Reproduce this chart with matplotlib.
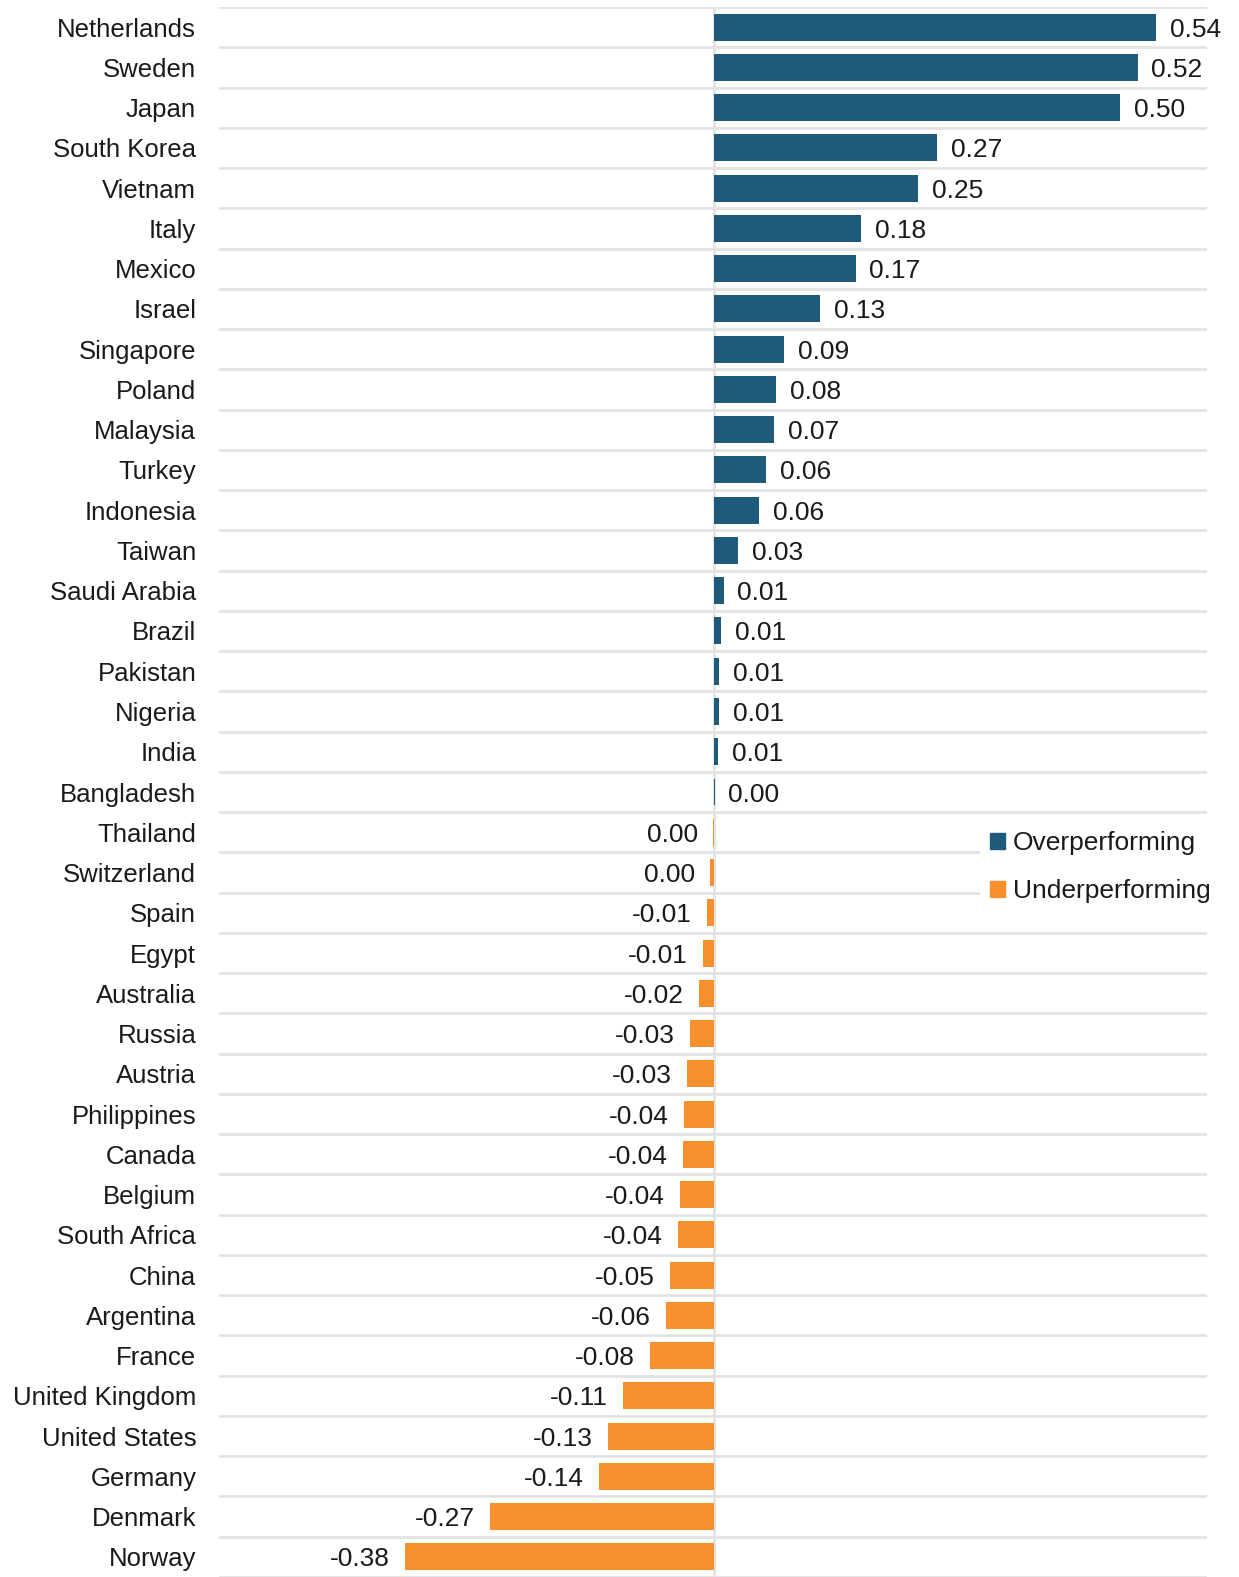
import matplotlib
matplotlib.use("Agg")
import matplotlib.pyplot as plt
from matplotlib.patches import Patch

countries = [
    "Netherlands", "Sweden", "Japan", "South Korea", "Vietnam", "Italy",
    "Mexico", "Israel", "Singapore", "Poland", "Malaysia", "Turkey",
    "Indonesia", "Taiwan", "Saudi Arabia", "Brazil", "Pakistan", "Nigeria",
    "India", "Bangladesh", "Thailand", "Switzerland", "Spain", "Egypt",
    "Australia", "Russia", "Austria", "Philippines", "Canada", "Belgium",
    "South Africa", "China", "Argentina", "France", "United Kingdom",
    "United States", "Germany", "Denmark", "Norway",
]
scores = [
    0.543, 0.520, 0.499, 0.274, 0.251, 0.181,
    0.174, 0.131, 0.086, 0.076, 0.074, 0.064,
    0.056, 0.030, 0.012, 0.009, 0.0065, 0.006,
    0.0055, 0.001, -0.0006, -0.004, -0.008, -0.013,
    -0.018, -0.029, -0.033, -0.037, -0.038, -0.041,
    -0.044, -0.054, -0.059, -0.078, -0.111,
    -0.130, -0.141, -0.274, -0.379,
]
legend_labels = ["Overperforming", "Underperforming"]

BLUE = "#1e5a7a"
ORANGE = "#f7902d"
GRID = "#e3e3e3"
TEXT = "#1a1a1a"

plt.rcParams["font.family"] = ["Liberation Sans Narrow", "Liberation Sans", "DejaVu Sans"]

fig = plt.figure(figsize=(12.39, 15.77), dpi=100)
ax = fig.add_axes([0.1768, 0.0, 0.974 - 0.1768, 1 - 7 / 1577])

n = len(countries)
ypos = list(range(n))
colors = [BLUE if v >= 0 else ORANGE for v in scores]
ax.barh(ypos, scores, height=0.67, color=colors, zorder=3)

# row separators and zero line
for k in range(-1, n):
    ax.axhline(k + 0.5, color=GRID, lw=2, zorder=1)
ax.axvline(0, color=GRID, lw=2, zorder=2)

def fmt(v):
    s = f"{v:.2f}"
    return "0.00" if s == "-0.00" else s

for y, v in zip(ypos, scores):
    if v >= 0:
        ax.annotate(fmt(v), (v, y), xytext=(10, 0), textcoords="offset points",
                    ha="left", va="center_baseline", fontsize=19, color=TEXT, zorder=4)
    else:
        ax.annotate(fmt(v), (v, y), xytext=(-11, 0), textcoords="offset points",
                    ha="right", va="center_baseline", fontsize=19, color=TEXT, zorder=4)

ax.set_xlim(-0.607, 0.605)
ax.set_ylim(n - 0.5, -0.5)
ax.set_yticks(ypos)
ax.set_yticklabels(countries, fontsize=18.5, color=TEXT)
ax.tick_params(axis="y", length=0, pad=16.5)
ax.set_xticks([])
for sp in ax.spines.values():
    sp.set_visible(False)

handles = [Patch(color=BLUE), Patch(color=ORANGE)]
leg = ax.legend(handles, legend_labels, loc="upper left", bbox_to_anchor=(0.770, 0.4816),
                borderaxespad=0, frameon=True, fancybox=False, framealpha=1,
                edgecolor="none", facecolor="white", fontsize=19,
                handlelength=0.55, handleheight=0.55, handletextpad=0.3,
                labelspacing=0.9, borderpad=0.4)
leg.set_zorder(5)
for t in leg.get_texts():
    t.set_color(TEXT)

fig.savefig("out.png", dpi=100, facecolor="white")
